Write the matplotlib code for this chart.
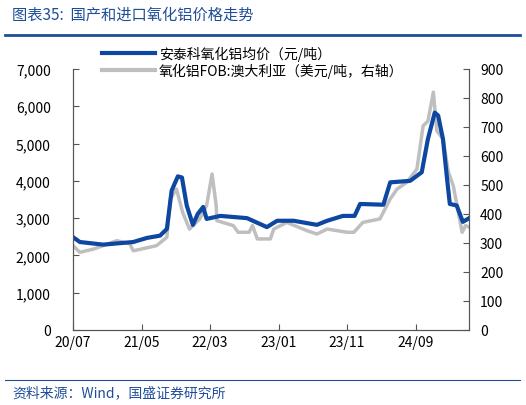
import matplotlib.pyplot as plt
from matplotlib.lines import Line2D

plt.rcParams['font.family'] = ['Noto Sans CJK SC', 'DejaVu Sans']

# months since 2020/07
blue_m = [0, 1, 4.4, 8.8, 10.8, 12.7, 13.7, 14.4, 15.3, 15.9, 16.6, 17.5, 18.2, 19, 19.5, 21.5,
          25.4, 28.3, 29.8, 32.2, 35.6, 37.1, 39.4, 41.1, 41.9, 45.3, 46.3, 49.2, 50.9, 51.8,
          52.8, 53.3, 54, 54.6, 55, 56, 56.9, 58]
blue_v = [2490, 2360, 2290, 2360, 2470, 2530, 2710, 3740, 4120, 4090, 3340, 2820, 3110, 3300, 2980, 3060,
          3000, 2760, 2930, 2930, 2820, 2930, 3060, 3060, 3380, 3360, 3960, 4000, 4230, 5120,
          5830, 5750, 5120, 4050, 3380, 3340, 2900, 3020]
gray_m = [0, 1, 3, 6.4, 8.3, 8.8, 12.2, 13.7, 14.2, 15.1, 16, 17, 18.5, 19.5, 20.3, 20.9, 21,
          23.4, 24.1, 25.7, 26.2, 26.9, 28.8, 29.3, 31.2, 34.2, 35.6, 37.1, 40, 41, 42.3, 44.8,
          46.3, 47.3, 48.7, 50.2, 51.1, 51.8, 52.6, 53.1, 54, 54.8, 55.5, 56.8, 57.3, 58]
gray_v = [291, 268, 279, 308, 297, 273, 291, 320, 452, 486, 406, 348, 383, 429, 538, 429, 377,
          360, 337, 337, 360, 314, 314, 348, 371, 342, 331, 348, 337, 337, 371, 383,
          452, 486, 509, 555, 704, 720, 820, 687, 659, 544, 498, 337, 360, 353]
tick_m = [0, 10, 20, 30, 40, 50]
tick_lbl = ['20/07', '21/05', '22/03', '23/01', '23/11', '24/09']

fig = plt.figure(figsize=(5.26, 4.06), dpi=100)
ax = fig.add_axes([73/526, 75/406, 396/526, 261/406])
ax2 = ax.twinx()
ax2.plot(gray_m, gray_v, color='#bfbfbf', lw=2.5, zorder=1)
ax.plot(blue_m, blue_v, color='#0d47a1', lw=3, zorder=2)
ax.set_zorder(ax2.get_zorder() + 1)
ax.patch.set_visible(False)

ax.set_xlim(0, 57.8)
ax.set_ylim(0, 7000)
ax2.set_ylim(0, 900)
ax.set_yticks(range(0, 7001, 1000))
ax.set_yticklabels([f'{v:,}' for v in range(0, 7001, 1000)])
ax2.set_yticks(range(0, 901, 100))
ax.set_xticks(tick_m)
ax.set_xticklabels(tick_lbl)
for a in (ax, ax2):
    a.tick_params(labelsize=10, direction='in', length=4, color='#555555')
    for s in ('top',):
        a.spines[s].set_visible(False)
    for s in ('left', 'right', 'bottom'):
        a.spines[s].set_color('#555555')
ax.tick_params(axis='y', pad=16)
ax2.tick_params(axis='y', pad=8)

handles = [Line2D([], [], color='#0d47a1', lw=3), Line2D([], [], color='#bfbfbf', lw=3)]
fig.legend(handles, ['安泰科氧化铝均价（元/吨）', '氧化铝FOB:澳大利亚（美元/吨，右轴）'],
           loc='upper left', bbox_to_anchor=(95/526, 1 - 40/406), frameon=False,
           fontsize=10, handlelength=3.8, labelspacing=0.1, borderpad=0, handletextpad=0.3)

fig.text(12/526, 1 - 15/406, '图表35:  国产和进口氧化铝价格走势', color='#1f4e99',
         fontsize=11, style='italic', va='center')
fig.add_artist(Line2D([5/526, 520/526], [1 - 36/406] * 2, color='#1f4e99', lw=2))
fig.add_artist(Line2D([5/526, 520/526], [1 - 381/406] * 2, color='#1f4e99', lw=0.8))
fig.text(12/526, 1 - 393/406, '资料来源：Wind，国盛证券研究所', color='#1f4e99',
         fontsize=10, style='italic', va='center')

fig.savefig('out.png')
